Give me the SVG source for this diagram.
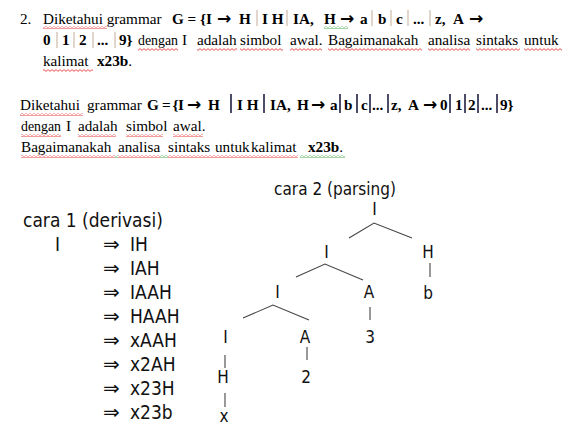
<svg xmlns="http://www.w3.org/2000/svg" width="574" height="437" viewBox="0 0 574 437">
<style>
.p{font-family:"Liberation Serif","Times New Roman",serif;font-size:15.2px;fill:#000}
.b{font-weight:bold}
.ar{font-family:"DejaVu Sans",sans-serif;font-size:17px;font-weight:bold}
.s{font-family:"DejaVu Sans Condensed","DejaVu Sans",sans-serif;font-stretch:condensed;fill:#111}
.d{font-size:19px}
.im{font-family:"DejaVu Sans",sans-serif;font-stretch:normal;font-size:20px}
.t{font-size:17px;text-anchor:middle}
.bar1{stroke:#c4ad98;stroke-width:1}
.bar2{stroke:#202040;stroke-width:1.6}
.e{stroke:#444;stroke-width:1.1;fill:none}
</style>
<defs>
<pattern id="wr" width="4" height="3" patternUnits="userSpaceOnUse"><path d="M0,0.6 L2,2.4 L4,0.6" stroke="#e02020" stroke-width="0.8" fill="none"/></pattern>
<pattern id="wg" width="4" height="3" patternUnits="userSpaceOnUse"><path d="M0,0.6 L2,2.4 L4,0.6" stroke="#30a030" stroke-width="0.8" fill="none"/></pattern>
</defs>
<rect width="574" height="437" fill="#fff"/>

<g id="paragraph1">
<text class="p" y="23.5"><tspan x="20">2.</tspan><tspan x="43">Diketahui grammar</tspan><tspan class="b" x="172">G = {I</tspan><tspan class="ar" x="217">→</tspan><tspan class="b" x="239">H</tspan><tspan class="b" x="262">I H</tspan><tspan class="b" x="293">IA,</tspan><tspan class="b" x="324">H</tspan><tspan class="ar" x="340">→</tspan><tspan class="b" x="360">a</tspan><tspan class="b" x="378">b</tspan><tspan class="b" x="396">c</tspan><tspan class="b" x="413">...</tspan><tspan class="b" x="435">z,</tspan><tspan class="b" x="453">A</tspan><tspan class="ar" x="469">→</tspan></text>
<text class="p" y="45"><tspan class="b" x="43">0</tspan><tspan class="b" x="62">1</tspan><tspan class="b" x="79">2</tspan><tspan class="b" x="97">...</tspan><tspan class="b" x="119">9}</tspan></text>
<text class="p" y="45" x="138" textLength="40" lengthAdjust="spacingAndGlyphs">dengan</text>
<text class="p" y="45"><tspan x="182">I</tspan><tspan x="197">adalah</tspan><tspan x="240">simbol</tspan><tspan x="290">awal.</tspan><tspan x="328">Bagaimanakah</tspan><tspan x="428">analisa</tspan><tspan x="476">sintaks</tspan><tspan x="524">untuk</tspan></text>
<text class="p" y="66"><tspan x="43">kalimat</tspan><tspan class="b" x="97">x23b</tspan><tspan>.</tspan></text>
<g class="bar1">
<line x1="257" y1="10" x2="257" y2="26"/><line x1="287" y1="10" x2="287" y2="26"/><line x1="372" y1="10" x2="372" y2="26"/><line x1="391" y1="10" x2="391" y2="26"/><line x1="408" y1="10" x2="408" y2="26"/><line x1="430" y1="10" x2="430" y2="26"/>
<line x1="57" y1="32" x2="57" y2="48"/><line x1="74" y1="32" x2="74" y2="48"/><line x1="93" y1="32" x2="93" y2="48"/><line x1="115" y1="32" x2="115" y2="48"/>
</g>
<g fill="url(#wr)">
<rect x="43" y="26" width="64" height="3"/>
<rect x="138" y="48" width="40" height="3"/><rect x="197" y="48" width="40" height="3"/><rect x="240" y="48" width="43" height="3"/><rect x="290" y="48" width="32" height="3"/><rect x="328" y="48" width="94" height="3"/><rect x="428" y="48" width="42" height="3"/><rect x="476" y="48" width="44" height="3"/><rect x="524" y="48" width="38" height="3"/>
<rect x="43" y="69" width="50" height="3"/>
</g>
<rect x="324" y="26" width="24" height="3" fill="url(#wg)"/>
</g>

<g id="paragraph2">
<text class="p" y="110"><tspan x="20">Diketahui</tspan><tspan x="87">grammar</tspan><tspan class="b" x="147">G</tspan><tspan class="b" x="162">=</tspan><tspan class="b" x="172.5">{</tspan><tspan class="b" x="178">I</tspan><tspan class="ar" x="187">→</tspan><tspan class="b" x="208">H</tspan><tspan class="b" x="237">I H</tspan><tspan class="b" x="270">IA,</tspan><tspan class="b" x="297">H</tspan><tspan class="ar" x="311">→</tspan><tspan class="b" x="330">a</tspan><tspan class="b" x="344">b</tspan><tspan class="b" x="361">c</tspan><tspan class="b" x="372">...</tspan><tspan class="b" x="391">z,</tspan><tspan class="b" x="408">A</tspan><tspan class="ar" x="423">→</tspan><tspan class="b" x="440">0</tspan><tspan class="b" x="455">1</tspan><tspan class="b" x="468">2</tspan><tspan class="b" x="481">...</tspan><tspan class="b" x="500">9}</tspan></text>
<text class="p" y="131" x="21" textLength="40" lengthAdjust="spacingAndGlyphs">dengan</text>
<text class="p" y="131"><tspan x="66">I</tspan><tspan x="78">adalah</tspan><tspan x="126">simbol</tspan><tspan x="173">awal.</tspan></text>
<text class="p" y="152"><tspan x="21">Bagaimanakah</tspan><tspan x="118">analisa</tspan><tspan x="168">sintaks</tspan><tspan x="215">untuk</tspan><tspan x="251">kalimat</tspan><tspan class="b" x="308">x23b</tspan><tspan>.</tspan></text>
<g class="bar2">
<line x1="231" y1="94" x2="231" y2="113"/><line x1="264" y1="94" x2="264" y2="113"/><line x1="340" y1="94" x2="340" y2="113"/><line x1="357" y1="94" x2="357" y2="113"/><line x1="370" y1="94" x2="370" y2="113"/><line x1="388" y1="94" x2="388" y2="113"/><line x1="450" y1="94" x2="450" y2="113"/><line x1="465" y1="94" x2="465" y2="113"/><line x1="478" y1="94" x2="478" y2="113"/><line x1="497" y1="94" x2="497" y2="113"/>
</g>
<g fill="url(#wr)">
<rect x="20" y="113" width="63" height="3"/>
<rect x="21" y="134" width="40" height="3"/><rect x="78" y="134" width="38" height="3"/><rect x="126" y="134" width="37" height="3"/><rect x="173" y="134" width="30" height="3"/>
<rect x="21" y="155" width="94" height="3"/><rect x="118" y="155" width="42" height="3"/><rect x="168" y="155" width="130" height="3"/>
</g>
<g fill="url(#wg)">
<rect x="115" y="155" width="3" height="3"/><rect x="160" y="155" width="8" height="3"/><rect x="300" y="155" width="45" height="3"/>
</g>
</g>

<g id="derivation">
<text class="s d" x="23" y="227">cara 1 (derivasi)</text>
<text class="s d" x="55" y="251">I</text>
<g class="s d">
<text class="im" x="103" y="251">⇒</text><text x="130" y="251">IH</text>
<text class="im" x="103" y="275">⇒</text><text x="130" y="275">IAH</text>
<text class="im" x="103" y="299">⇒</text><text x="130" y="299">IAAH</text>
<text class="im" x="103" y="323">⇒</text><text x="130" y="323">HAAH</text>
<text class="im" x="103" y="347">⇒</text><text x="130" y="347">xAAH</text>
<text class="im" x="103" y="371">⇒</text><text x="130" y="371">x2AH</text>
<text class="im" x="103" y="395">⇒</text><text x="130" y="395">x23H</text>
<text class="im" x="103" y="419">⇒</text><text x="130" y="419">x23b</text>
</g>
</g>

<g id="parse-tree">
<text class="s t" x="335" y="195">cara 2 (parsing)</text>
<g id="n1"><text class="s t" x="374.5" y="215">I</text></g>
<g id="n2"><text class="s t" x="326.5" y="258">I</text></g>
<g id="n3"><text class="s t" x="428" y="258">H</text></g>
<g id="n4"><text class="s t" x="428" y="299">b</text></g>
<g id="n5"><text class="s t" x="277.5" y="298">I</text></g>
<g id="n6"><text class="s t" x="369" y="298">A</text></g>
<g id="n7"><text class="s t" x="370" y="343">3</text></g>
<g id="n8"><text class="s t" x="225.5" y="343">I</text></g>
<g id="n9"><text class="s t" x="305" y="343">A</text></g>
<g id="n10"><text class="s t" x="306" y="383">2</text></g>
<g id="n11"><text class="s t" x="223" y="383">H</text></g>
<g id="n12"><text class="s t" x="224" y="422">x</text></g>
<g id="edges" class="e">
<polyline points="349,238 374,223 412,238"/>
<line x1="430" y1="263" x2="430" y2="277"/>
<polyline points="296,277 325,264 363,280"/>
<line x1="370" y1="307" x2="370" y2="320"/>
<polyline points="243,318 273,305 309,320"/>
<line x1="307" y1="347" x2="307" y2="360"/>
<line x1="225" y1="355" x2="225" y2="368"/>
<line x1="225" y1="393" x2="225" y2="407"/>
</g>
</g>
</svg>
